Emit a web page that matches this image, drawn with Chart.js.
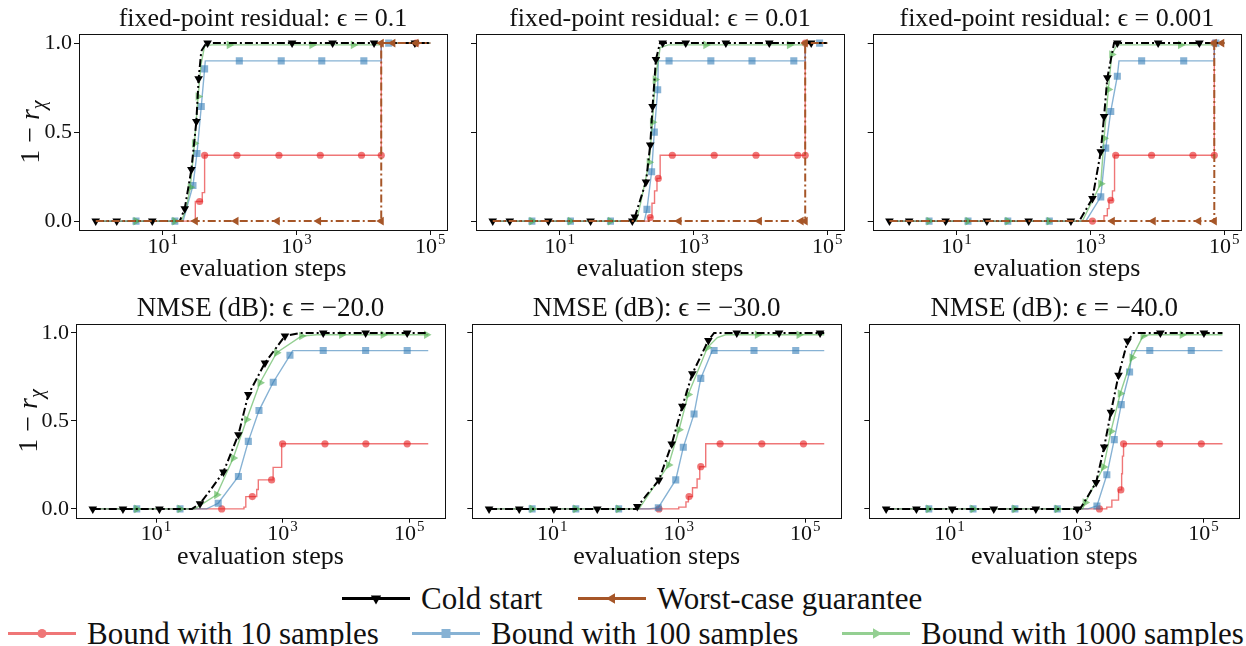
<!DOCTYPE html>
<html>
<head>
<meta charset="utf-8">
<script src="https://cdn.jsdelivr.net/npm/chart.js@4.4.1/dist/chart.umd.min.js"></script>
<style>
html, body { margin: 0; padding: 0; background: #fff; }
#wrap { position: relative; width: 1246px; height: 646px; overflow: hidden; font-family: "Liberation Serif", "DejaVu Serif", serif; color: #111; }
#wrap canvas { position: absolute; }
.lg { position: absolute; display: flex; align-items: center; font-size: 31px; line-height: 1; white-space: nowrap; transform: translateY(-50%); }
.lg svg { margin-right: 11px; }
</style>
</head>
<body>
<div id="wrap">
  <canvas id="c1" width="452" height="290" style="left:0px;top:0px"></canvas>
  <canvas id="c2" width="393" height="290" style="left:456px;top:0px"></canvas>
  <canvas id="c3" width="393" height="290" style="left:853px;top:0px"></canvas>
  <canvas id="c4" width="450" height="290" style="left:0px;top:290px"></canvas>
  <canvas id="c5" width="394" height="290" style="left:452px;top:290px"></canvas>
  <canvas id="c6" width="397" height="290" style="left:849px;top:290px"></canvas>
</div>
<script>
// ---- data: [evaluation steps, 1 - r] ----

// fixed-point residual, eps = 0.1
const fp1Cold = [[1,0],[18,0],[21.4,0.07],[26.9,0.29],[31.9,0.56],[34.5,0.8],[37.8,0.955],[44.9,1],[1e5,1]];
const fp1ColdMk = [[1,0],[2.06,0],[7,0],[21.4,0.07],[26.9,0.29],[31.9,0.56],[34.5,0.8],[47,1],[861,1],[3470,1],[14450,1],[58900,1]];
const fp1Worst = [[1,0],[18500,1],[1e5,1]];
const fp1WorstMk = [[30.8,0],[125,0],[516,0],[2140,0],[18500,0],[18500,1],[27600,1],[61200,1]];
const fp1B10 = [[1,0],[30.8,0.11],[39.1,0.16],[42.4,0.37],[18500,1],[1e5,1]];
const fp1B10Mk = [[35.7,0.11],[42.4,0.37],[129,0.37],[547,0.37],[2270,0.37],[9380,0.37],[18500,0.37],[61200,1]];
const fp1B100 = [[1,0],[20.2,0],[28.4,0.2],[32.6,0.38],[37.8,0.644],[42.4,0.855],[43.4,0.9],[18500,0.9],[18500,1],[1e5,1]];
const fp1B100Mk = [[4,0],[15.2,0],[28.4,0.2],[32.6,0.38],[37.8,0.644],[42.4,0.855],[140,0.9],[592,0.9],[2390,0.9],[10170,0.9],[23900,1]];
const fp1B1000 = [[1,0],[19.1,0],[22.5,0.07],[25.9,0.19],[29.9,0.437],[33.9,0.7],[37.5,0.88],[42.4,0.985],[55,0.99],[18500,0.99],[18500,1],[1e5,1]];
const fp1B1000Mk = [[4,0],[15.2,0],[25.9,0.19],[29.9,0.437],[33.9,0.7],[99,0.99],[1700,0.99],[7070,0.99]];

// fixed-point residual, eps = 0.01
const fp2Cold = [[1,0],[123,0],[133,0.023],[195,0.22],[226,0.428],[245,0.644],[275,0.908],[316,1],[1e5,1]];
const fp2ColdMk = [[1,0],[1.8,0],[6.8,0],[29,0],[122,0],[133,0.023],[195,0.22],[226,0.428],[245,0.644],[275,0.908],[347,1],[767,1],[3050,1],[13600,1],[57500,1]];
const fp2Worst = [[1,0],[46800,1],[1e5,1]];
const fp2WorstMk = [[610,0],[9660,0],[40700,0],[46800,0],[46800,1]];
const fp2B10 = [[1,0],[215,0.02],[240,0.1],[262,0.17],[285,0.24],[318,0.37],[46800,1],[1e5,1]];
const fp2B10Mk = [[226,0.02],[298,0.24],[483,0.37],[2040,0.37],[8610,0.37],[36300,0.37],[46800,0.37],[46800,1]];
const fp2B100 = [[1,0],[184,0],[202,0.066],[237,0.277],[260,0.5],[292,0.738],[298,0.9],[46800,0.9],[46800,1],[1e5,1]];
const fp2B100Mk = [[3.85,0],[14.5,0],[57.5,0],[202,0.066],[237,0.277],[260,0.5],[292,0.738],[432,0.9],[1820,0.9],[7500,0.9],[31600,0.9],[76800,1]];
const fp2B1000 = [[1,0],[140,0],[162,0.1],[218,0.33],[244,0.556],[268,0.795],[318,0.975],[420,0.99],[46800,0.99],[46800,1],[1e5,1]];
const fp2B1000Mk = [[3.85,0],[14.5,0],[57.5,0],[218,0.33],[244,0.556],[268,0.795],[1530,0.99],[27200,0.99]];

// fixed-point residual, eps = 0.001
const fp3Cold = [[1,0],[681,0],[1075,0.127],[1432,0.39],[1603,0.588],[1795,0.805],[2260,1],[1e5,1]];
const fp3ColdMk = [[1,0],[1.97,0],[6.9,0],[28.5,0],[120,0],[513,0],[1075,0.127],[1432,0.39],[1603,0.588],[1795,0.805],[2530,1],[10300,1],[42500,1]];
const fp3Worst = [[1,0],[71000,1],[1e5,1]];
const fp3WorstMk = [[2130,0],[8700,0],[41500,0],[71000,0],[71000,1],[91800,1]];
const fp3B10 = [[1,0],[1600,0.03],[1795,0.07],[1900,0.117],[2140,0.17],[2300,0.37],[71000,1],[1e5,1]];
const fp3B10Mk = [[1075,0],[2018,0.117],[2393,0.37],[8220,0.37],[34100,0.37],[71000,0.37],[71000,1]];
const fp3B100 = [[1,0],[857,0],[1432,0.136],[1698,0.41],[2018,0.616],[2530,0.814],[2680,0.9],[71000,0.9],[71000,1],[1e5,1]];
const fp3B100Mk = [[3.9,0],[14.9,0],[58.5,0],[244,0],[1432,0.136],[1698,0.41],[2018,0.616],[2530,0.814],[5840,0.9],[24800,0.9],[75000,1]];
const fp3B1000 = [[1,0],[760,0],[1432,0.21],[1603,0.465],[1858,0.74],[2090,0.936],[2500,0.99],[71000,0.99],[71000,1],[1e5,1]];
const fp3B1000Mk = [[3.9,0],[14.9,0],[58.5,0],[244,0],[1432,0.21],[1603,0.465],[1858,0.74],[2090,0.936],[22200,0.99]];

// NMSE (dB), eps = -20
const nm20Cold = [[1,0],[37,0],[49.5,0.03],[76,0.118],[116,0.21],[200,0.422],[287,0.65],[526,0.83],[1090,0.983],[1860,1],[2e5,1]];
const nm20ColdMk = [[1,0],[3,0],[11.3,0],[49.5,0.03],[116,0.21],[200,0.422],[287,0.65],[526,0.83],[1090,0.983],[4380,1],[20500,1],[93000,1]];
const nm20B10 = [[1,0],[245,0.01],[262,0.07],[390,0.11],[413,0.165],[708,0.236],[966,0.37],[2e5,0.37]];
const nm20B10Mk = [[109,0],[332,0.07],[670,0.165],[1000,0.37],[4670,0.37],[20700,0.37],[93000,0.37]];
const nm20B100 = [[1,0],[63,0],[96,0.032],[200,0.184],[287,0.384],[423,0.559],[711,0.72],[1306,0.873],[1440,0.9],[2e5,0.9]];
const nm20B100Mk = [[4.95,0],[23.9,0],[96,0.032],[200,0.184],[287,0.384],[423,0.559],[711,0.72],[1306,0.873],[4380,0.9],[20500,0.9],[93000,0.9]];
const nm20B1000 = [[1,0],[41,0],[90.8,0.08],[166,0.289],[270,0.508],[439,0.717],[805,0.888],[2000,0.983],[3500,0.99],[2e5,0.99]];
const nm20B1000Mk = [[4.95,0],[23.9,0],[90.8,0.08],[166,0.289],[270,0.508],[439,0.717],[805,0.888],[2000,0.983],[8550,0.99],[38800,0.99],[188000,0.99]];

// NMSE (dB), eps = -30
const nm30Cold = [[1,0],[209,0],[221,0.013],[487,0.165],[775,0.369],[1140,0.584],[1640,0.768],[2940,0.958],[3620,1],[2e5,1]];
const nm30ColdMk = [[1,0],[3,0],[10.6,0],[51.5,0],[221,0.013],[487,0.165],[775,0.369],[1140,0.584],[1640,0.768],[2940,0.958],[8280,1],[38600,1],[172000,1]];
const nm30B10 = [[1,0],[1000,0.01],[1300,0.04],[1420,0.07],[1650,0.12],[1950,0.17],[2150,0.24],[2670,0.37],[2e5,0.37]];
const nm30B10Mk = [[487,0],[1456,0.07],[2230,0.24],[4510,0.37],[20600,0.37],[93800,0.37]];
const nm30B100 = [[1,0],[339,0],[475,0.007],[896,0.165],[1180,0.35],[1746,0.54],[2230,0.742],[3390,0.9],[2e5,0.9]];
const nm30B100Mk = [[4.8,0],[23.5,0],[112,0],[475,0.007],[896,0.165],[1180,0.35],[1746,0.54],[2230,0.742],[3620,0.9],[15500,0.9],[70800,0.9]];
const nm30B1000 = [[1,0],[235,0],[690,0.25],[1010,0.45],[1410,0.65],[2840,0.917],[4080,0.974],[5500,0.99],[2e5,0.99]];
const nm30B1000Mk = [[4.8,0],[23.5,0],[112,0],[690,0.25],[1010,0.45],[1410,0.65],[2840,0.917],[17500,0.99],[80000,0.99]];

// NMSE (dB), eps = -40
const nm40Cold = [[1,0],[1140,0],[2040,0.15],[2730,0.352],[3490,0.55],[4600,0.76],[6390,0.954],[7940,1],[2e5,1]];
const nm40ColdMk = [[1,0],[3,0],[11,0],[49.7,0],[229,0],[1030,0],[2040,0.15],[2730,0.352],[3490,0.55],[4600,0.76],[6390,0.954],[21000,1],[102000,1]];
const nm40B10 = [[1,0],[3000,0.01],[3610,0.05],[4600,0.108],[5150,0.2],[5300,0.3],[5520,0.37],[2e5,0.37]];
const nm40B10Mk = [[2300,0],[5000,0.108],[5520,0.37],[20500,0.37],[92700,0.37]];
const nm40B100 = [[1,0],[1510,0],[2100,0.017],[3010,0.194],[3940,0.394],[5080,0.593],[6870,0.778],[7500,0.9],[2e5,0.9]];
const nm40B100Mk = [[4.7,0],[23.4,0],[107,0],[499,0],[2100,0.017],[3010,0.194],[3940,0.394],[5080,0.593],[6870,0.778],[14300,0.9],[64400,0.9]];
const nm40B1000 = [[1,0],[1250,0],[1370,0.036],[2670,0.238],[3490,0.441],[4900,0.656],[7500,0.86],[11200,0.983],[14000,0.99],[2e5,0.99]];
const nm40B1000Mk = [[4.7,0],[23.4,0],[107,0],[499,0],[1370,0.036],[2670,0.238],[3490,0.441],[4900,0.656],[7500,0.86],[11200,0.983],[46300,0.99]];

const panelTitles = [
  "fixed-point residual: \u03f5 = 0.1", "fixed-point residual: \u03f5 = 0.01", "fixed-point residual: \u03f5 = 0.001",
  "NMSE (dB): \u03f5 = \u221220.0", "NMSE (dB): \u03f5 = \u221230.0", "NMSE (dB): \u03f5 = \u221240.0"
];
const xTicks = [10, 1000, 100000];
const yTicks = [0, 0.5, 1];
const legendLabels = ["Cold start", "Worst-case guarantee", "Bound with 10 samples", "Bound with 100 samples", "Bound with 1000 samples"];

// ---- styling ----
const FONT = "Liberation Serif";
const INK = "#111";
const DASHDOT = [8, 3, 2, 3];

const styles = {
  cold:  { color: "#000000", legend: "#000000", width: 2, dash: DASHDOT, shape: "triangle", rot: 180, r: 5 },
  worst: { color: "#a65628", legend: "#a65628", width: 2, dash: DASHDOT, shape: "triangle", rot: 270, r: 5 },
  b10:   { color: "rgba(228,26,28,0.6)", legend: "rgb(239,118,119)", width: 1.4, dash: [], shape: "circle", rot: 0, r: 3.6 },
  b100:  { color: "rgba(55,126,184,0.6)", legend: "rgb(135,178,212)", width: 1.4, dash: [], shape: "rect", rot: 0, r: 5 },
  b1000: { color: "rgba(77,175,74,0.6)", legend: "rgb(148,207,146)", width: 1.4, dash: [], shape: "triangle", rot: 90, r: 5 }
};

const toXY = pts => pts.map(p => ({ x: p[0], y: p[1] }));

// stepped = hold the previous value until the next x, then jump
function lineSet(pts, st, stepped) {
  return {
    data: toXY(pts), borderColor: st.color, borderWidth: st.width, borderDash: st.dash,
    pointRadius: 0, fill: false, tension: 0, stepped: stepped ? "before" : false
  };
}

function markSet(pts, st) {
  return {
    data: toXY(pts), showLine: false, pointRadius: st.r, pointStyle: st.shape, pointRotation: st.rot,
    pointBackgroundColor: st.color, pointBorderWidth: 0
  };
}

// box around the axes, like matplotlib spines
const framePlugin = {
  id: "frame",
  afterDraw(chart) {
    const { left, top, right, bottom } = chart.chartArea;
    const ctx = chart.ctx;
    ctx.save();
    ctx.strokeStyle = INK;
    ctx.lineWidth = 1;
    ctx.strokeRect(Math.round(left) + 0.5, Math.round(top) + 0.5, Math.round(right - left), Math.round(bottom - top));
    ctx.restore();
  }
};

// 10^k tick labels with a raised exponent
const xTickPlugin = {
  id: "xtick",
  afterDraw(chart) {
    const ctx = chart.ctx;
    const sx = chart.scales.x;
    const base = chart.chartArea.bottom + 22.5;
    ctx.save();
    ctx.fillStyle = INK;
    ctx.textBaseline = "alphabetic";
    ctx.textAlign = "left";
    xTicks.forEach(v => {
      const px = sx.getPixelForValue(v);
      const e = String(Math.round(Math.log10(v)));
      ctx.font = "22px " + FONT;
      const w1 = ctx.measureText("10").width;
      ctx.font = "15px " + FONT;
      const w2 = ctx.measureText(e).width;
      const x0 = px - (w1 + w2 + 1) / 2;
      ctx.font = "22px " + FONT;
      ctx.fillText("10", x0, base);
      ctx.font = "15px " + FONT;
      ctx.fillText(e, x0 + w1 + 1, base - 9);
    });
    ctx.restore();
  }
};

// rotated "1 - r_chi" label
const yLabelPlugin = {
  id: "ylabel",
  afterDraw(chart) {
    const ctx = chart.ctx;
    const { top, bottom } = chart.chartArea;
    const parts = [
      { t: "1 \u2212 ", f: "28px " + FONT, dy: 0 },
      { t: "r", f: "italic 28px " + FONT, dy: 0 },
      { t: "\u03c7", f: "italic 20px " + FONT, dy: 6 }
    ];
    ctx.save();
    let total = 0;
    parts.forEach(p => { ctx.font = p.f; p.w = ctx.measureText(p.t).width; total += p.w; });
    ctx.translate(chart.options.yTitleX, (top + bottom) / 2);
    ctx.rotate(-Math.PI / 2);
    ctx.fillStyle = INK;
    ctx.textBaseline = "alphabetic";
    let x = -total / 2;
    parts.forEach(p => { ctx.font = p.f; ctx.fillText(p.t, x, p.dy); x += p.w; });
    ctx.restore();
  }
};

function makePanel(cfg) {
  const ds = [];
  if (cfg.worst) {
    ds.push(markSet(cfg.worstMk, styles.worst), lineSet(cfg.worst, styles.worst, true));
  }
  ds.push(
    markSet(cfg.coldMk, styles.cold), lineSet(cfg.cold, styles.cold, false),
    markSet(cfg.b1000Mk, styles.b1000), lineSet(cfg.b1000, styles.b1000, false),
    markSet(cfg.b100Mk, styles.b100), lineSet(cfg.b100, styles.b100, false),
    markSet(cfg.b10Mk, styles.b10), lineSet(cfg.b10, styles.b10, true)
  );
  const tickGrid = { drawOnChartArea: false, drawTicks: true, tickLength: 5, color: INK, lineWidth: 1 };
  return new Chart(document.getElementById(cfg.id), {
    type: "line",
    data: { datasets: ds },
    options: {
      responsive: false,
      animation: false,
      events: [],
      yTitleX: cfg.yTitleX,
      font: { family: FONT },
      layout: { padding: { left: 0, right: cfg.pr, top: 0, bottom: cfg.pb } },
      plugins: {
        legend: { display: false },
        tooltip: { enabled: false },
        title: {
          display: true, text: cfg.title, color: INK, fullSize: false,
          font: { family: FONT, size: cfg.titleSize, weight: "normal", lineHeight: 1.1 },
          padding: { top: 4.5, bottom: 34.2 - 4.5 - cfg.titleSize * 1.1 }
        }
      },
      scales: {
        x: {
          type: "logarithmic", min: cfg.xmin, max: cfg.xmax,
          afterBuildTicks: s => { s.ticks = xTicks.map(v => ({ value: v })); },
          afterFit: s => { s.height = 54.6; },
          grid: tickGrid,
          border: { display: false },
          ticks: { callback: () => "", font: { family: FONT, size: 22 } },
          title: {
            display: true, text: "evaluation steps", color: INK,
            font: { family: FONT, size: 26, lineHeight: 1.2 }, padding: 0
          }
        },
        y: {
          type: "linear", min: -0.05, max: 1.05,
          afterBuildTicks: s => { s.ticks = yTicks.map(v => ({ value: v })); },
          afterFit: s => { s.width = cfg.yw; },
          grid: tickGrid,
          border: { display: false },
          ticks: {
            padding: 2, color: INK, font: { family: FONT, size: 22 },
            callback: v => cfg.yLabels ? v.toFixed(1) : ""
          }
        }
      }
    },
    plugins: [framePlugin, xTickPlugin].concat(cfg.yLabels ? [yLabelPlugin] : [])
  });
}

// ---- shared legend below the grid ----
function swatch(st) {
  const cx = 34, cy = 14, r = 6;
  let mark;
  if (st.shape === "circle") {
    mark = `<circle cx="${cx}" cy="${cy}" r="4.5" fill="${st.legend}"/>`;
  } else if (st.shape === "rect") {
    mark = `<rect x="${cx - 4.5}" y="${cy - 4.5}" width="9" height="9" fill="${st.legend}"/>`;
  } else {
    const h = r * Math.sqrt(3) / 2;
    mark = `<polygon points="${cx},${cy - r} ${cx + h},${cy + r / 2} ${cx - h},${cy + r / 2}" fill="${st.legend}" transform="rotate(${st.rot} ${cx} ${cy})"/>`;
  }
  return `<svg width="68" height="28"><line x1="0" y1="${cy}" x2="68" y2="${cy}" stroke="${st.legend}" stroke-width="3"/>${mark}</svg>`;
}

const legendKeys = ["cold", "worst", "b10", "b100", "b1000"];
const legendSpots = [[342, 598], [578, 598], [8, 633], [412, 633], [842, 633]];
const wrap = document.getElementById("wrap");
legendKeys.forEach((k, i) => {
  const el = document.createElement("div");
  el.className = "lg";
  el.style.left = legendSpots[i][0] + "px";
  el.style.top = legendSpots[i][1] + "px";
  el.innerHTML = swatch(styles[k]) + "<span>" + legendLabels[i] + "</span>";
  wrap.appendChild(el);
});

function drawAll() {
  Chart.defaults.font.family = FONT;
  const topRange = { xmin: Math.pow(10, -0.25), xmax: Math.pow(10, 5.25), pb: 5.4, titleSize: 26 };
  const botRange = { xmin: Math.pow(10, -0.265), xmax: Math.pow(10, 5.566), pb: 7.7, titleSize: 27 };

  makePanel(Object.assign({ id: "c1", title: panelTitles[0], yw: 79, pr: 4, yLabels: true, yTitleX: 39,
    cold: fp1Cold, coldMk: fp1ColdMk, worst: fp1Worst, worstMk: fp1WorstMk, b10: fp1B10, b10Mk: fp1B10Mk,
    b100: fp1B100, b100Mk: fp1B100Mk, b1000: fp1B1000, b1000Mk: fp1B1000Mk }, topRange));
  makePanel(Object.assign({ id: "c2", title: panelTitles[1], yw: 20, pr: 4, yLabels: false,
    cold: fp2Cold, coldMk: fp2ColdMk, worst: fp2Worst, worstMk: fp2WorstMk, b10: fp2B10, b10Mk: fp2B10Mk,
    b100: fp2B100, b100Mk: fp2B100Mk, b1000: fp2B1000, b1000Mk: fp2B1000Mk }, topRange));
  makePanel(Object.assign({ id: "c3", title: panelTitles[2], yw: 19.7, pr: 3.7, yLabels: false,
    cold: fp3Cold, coldMk: fp3ColdMk, worst: fp3Worst, worstMk: fp3WorstMk, b10: fp3B10, b10Mk: fp3B10Mk,
    b100: fp3B100, b100Mk: fp3B100Mk, b1000: fp3B1000, b1000Mk: fp3B1000Mk }, topRange));
  makePanel(Object.assign({ id: "c4", title: panelTitles[3], yw: 76, pr: 4, yLabels: true, yTitleX: 36.7,
    cold: nm20Cold, coldMk: nm20ColdMk, b10: nm20B10, b10Mk: nm20B10Mk,
    b100: nm20B100, b100Mk: nm20B100Mk, b1000: nm20B1000, b1000Mk: nm20B1000Mk }, botRange));
  makePanel(Object.assign({ id: "c5", title: panelTitles[4], yw: 20.3, pr: 3.7, yLabels: false,
    cold: nm30Cold, coldMk: nm30ColdMk, b10: nm30B10, b10Mk: nm30B10Mk,
    b100: nm30B100, b100Mk: nm30B100Mk, b1000: nm30B1000, b1000Mk: nm30B1000Mk }, botRange));
  makePanel(Object.assign({ id: "c6", title: panelTitles[5], yw: 20.3, pr: 6.7, yLabels: false,
    cold: nm40Cold, coldMk: nm40ColdMk, b10: nm40B10, b10Mk: nm40B10Mk,
    b100: nm40B100, b100Mk: nm40B100Mk, b1000: nm40B1000, b1000Mk: nm40B1000Mk }, botRange));
}

// make sure the serif face is ready before the canvases draw text
Promise.all([
  document.fonts.load("27px Liberation Serif"),
  document.fonts.load("italic 27px Liberation Serif")
]).then(drawAll, drawAll);
</script>
</body>
</html>
